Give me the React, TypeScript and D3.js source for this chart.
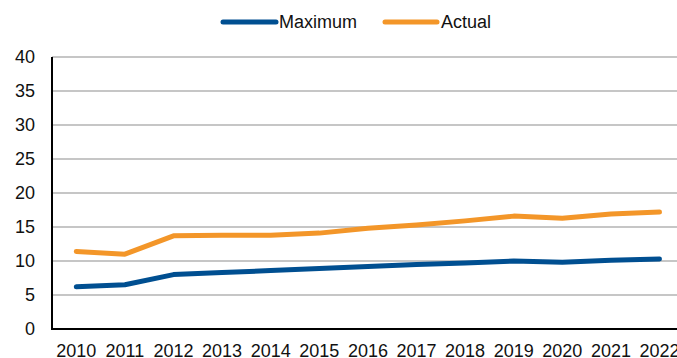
import React from "react";
import * as d3 from "d3";

const years = ["2010","2011","2012","2013","2014","2015","2016","2017","2018","2019","2020","2021","2022"];
const maximumValues = [6.2, 6.5, 8.0, 8.3, 8.6, 8.9, 9.2, 9.5, 9.7, 10.0, 9.8, 10.1, 10.3];
const actualValues = [11.4, 11.0, 13.7, 13.8, 13.8, 14.1, 14.8, 15.3, 15.9, 16.6, 16.3, 16.9, 17.2];
const yTicks = [0, 5, 10, 15, 20, 25, 30, 35, 40];

const W = 677, H = 358;
const left = 52, top = 57, bottom = 329;
const step = 48.6;

export default function App() {
  const x = d3.scaleBand<string>().domain(years).range([left, left + step * years.length]);
  const y = d3.scaleLinear().domain([0, 40]).range([bottom, top]);
  const cx = (d: string) => (x(d) as number) + x.bandwidth() / 2;
  const line = d3.line<number>().x((_, i) => cx(years[i])).y((v) => y(v));
  const font = "Arial, 'Liberation Sans', sans-serif";
  return (
    <svg width={W} height={H} style={{ position: "absolute", left: 0, top: 0 }} fontFamily={font}>
      <rect width={W} height={H} fill="#fff" />
      {yTicks.filter(t => t > 0).map(t => (
        <line key={t} x1={left} x2={W} y1={y(t)} y2={y(t)} stroke="#b3b3b3" strokeWidth={1.5} />
      ))}
      {yTicks.map(t => (
        <text key={t} x={35} y={y(t)} dy="0.35em" textAnchor="end" fontSize={18} fill="#111">{t}</text>
      ))}
      <line x1={left} x2={left} y1={top} y2={bottom} stroke="#000" strokeWidth={2} />
      <line x1={left - 1} x2={W} y1={bottom} y2={bottom} stroke="#000" strokeWidth={2} />
      {years.map(d => (
        <text key={d} x={cx(d)} y={357} textAnchor="middle" fontSize={18} fill="#111">{d}</text>
      ))}
      <path d={line(maximumValues) || ""} fill="none" stroke="#004F91" strokeWidth={5} strokeLinecap="round" strokeLinejoin="round" />
      <path d={line(actualValues) || ""} fill="none" stroke="#F39629" strokeWidth={5} strokeLinecap="round" strokeLinejoin="round" />
      <g>
        <line x1={223} x2={276} y1={22} y2={22} stroke="#004F91" strokeWidth={5} strokeLinecap="round" />
        <text x={279} y={22} dy="0.35em" fontSize={18} fill="#111">Maximum</text>
        <line x1={385} x2={437} y1={22} y2={22} stroke="#F39629" strokeWidth={5} strokeLinecap="round" />
        <text x={441} y={22} dy="0.35em" fontSize={18} fill="#111">Actual</text>
      </g>
    </svg>
  );
}
